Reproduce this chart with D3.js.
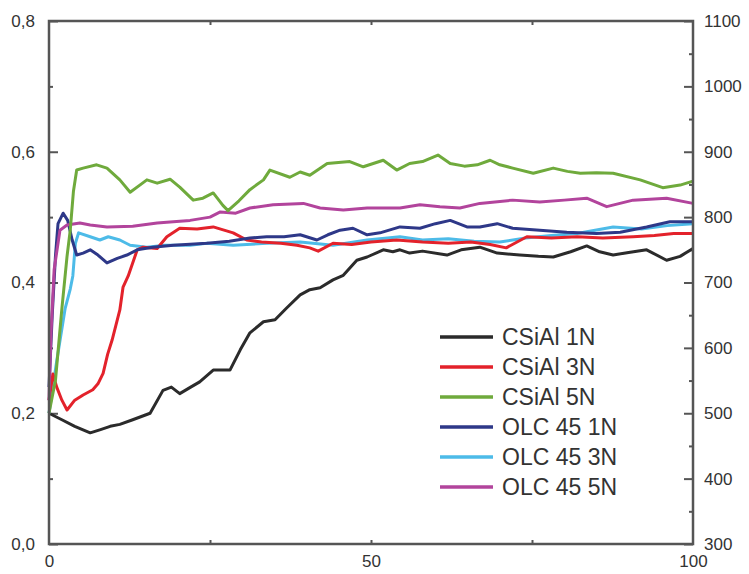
<!DOCTYPE html>
<html>
<head>
<meta charset="utf-8">
<script src="https://cdn.jsdelivr.net/npm/d3@7"></script>
<style>
  body { margin: 0; background: #fff; }
  text { font-family: "Liberation Sans", Arial, sans-serif; fill: #333; }
</style>
</head>
<body>
<div class="container"></div>
<script>
// Series data: [x, value]
const csial1N = [[0,.2],[2,.19],[4,.18],[6.4,.17],[8,.175],[9.5,.18],[11,.183],[13,.19],[15.7,.2],[17.7,.235],[19,.24],[20.3,.23],[22,.24],[23.4,.248],[25.5,.266],[28.1,.266],[29.7,.297],[31.2,.323],[33.3,.34],[35.1,.343],[36.9,.361],[39,.381],[40.5,.389],[42.1,.392],[44.1,.404],[45.7,.411],[47.8,.434],[49.4,.439],[51.9,.45],[53.4,.447],[54.5,.45],[56,.445],[58,.448],[61.8,.442],[64,.45],[66.9,.454],[69.6,.445],[73.1,.442],[76,.44],[78.3,.439],[81,.447],[83.5,.456],[85.5,.447],[87.6,.442],[90,.446],[92.8,.45],[95.9,.434],[98,.44],[100,.452]];
const csial3N = [[0,.22],[0.6,.26],[1.2,.24],[2,.22],[2.8,.205],[4,.22],[5.3,.228],[6.8,.236],[7.6,.245],[8.4,.261],[9.1,.29],[9.8,.312],[11,.358],[11.5,.393],[12.3,.41],[13.7,.45],[14.6,.454],[16.8,.452],[18.3,.47],[20.3,.483],[23,.482],[25.5,.485],[28.6,.476],[30.7,.465],[33,.462],[36,.46],[38.5,.457],[40.5,.453],[41.8,.448],[44.1,.46],[47,.458],[50,.462],[54,.465],[58,.462],[62,.46],[65.5,.462],[68.5,.458],[71,.453],[74.2,.47],[78,.468],[82,.47],[86,.468],[90.7,.47],[94,.472],[97,.475],[100,.475]];
const csial5N = [[0,.2],[1,.25],[2,.36],[2.8,.44],[3.3,.48],[3.8,.54],[4.3,.572],[5.3,.575],[7.4,.58],[9,.575],[11,.557],[12.6,.538],[14.1,.549],[15.2,.557],[16.8,.552],[18.8,.558],[20.3,.546],[22.4,.526],[23.9,.529],[25.5,.537],[27,.518],[27.8,.51],[29.5,.525],[31.2,.542],[33.3,.557],[34.3,.572],[37.4,.561],[39,.569],[40.5,.564],[43.2,.582],[46.7,.585],[48.8,.577],[51.9,.587],[54,.572],[56,.582],[58,.585],[60.4,.595],[62.3,.582],[64.5,.578],[66.5,.58],[68.5,.587],[70,.58],[72,.575],[75.2,.567],[78.3,.575],[80.5,.57],[82.5,.567],[85,.568],[87.6,.567],[91.8,.557],[95.3,.545],[98,.549],[100,.555]];
const olc1N = [[0,.24],[0.5,.35],[1,.44],[1.4,.49],[2.2,.506],[2.9,.495],[3.6,.465],[4.3,.442],[5.3,.445],[6.4,.45],[7.6,.442],[9,.43],[10.6,.437],[12.1,.442],[13.7,.45],[16.1,.454],[19.3,.457],[24.5,.46],[28,.463],[31.2,.468],[33.8,.47],[36.5,.47],[39,.473],[41.6,.465],[43.3,.473],[45.2,.48],[47.2,.483],[49.4,.473],[51.4,.476],[54.5,.485],[57.6,.483],[60,.49],[62.3,.495],[64.9,.485],[66.9,.485],[69.6,.49],[72,.483],[76.2,.48],[80.4,.477],[85,.475],[88.7,.477],[92.8,.485],[96.4,.493],[100,.493]];
const olc3N = [[0,.2],[1.2,.28],[2.5,.36],[3.3,.39],[3.7,.41],[4.1,.46],[4.6,.476],[6.4,.47],[7.9,.465],[9.2,.47],[11,.465],[12.6,.457],[15.2,.454],[18,.457],[21.9,.457],[24.5,.46],[28.6,.457],[33.8,.46],[39,.462],[44.1,.457],[49.4,.465],[54.5,.47],[58,.465],[62,.467],[66,.463],[70,.462],[74,.468],[78,.472],[82,.475],[87.6,.485],[92,.482],[96,.487],[100,.49]];
const olc5N = [[0,.22],[0.3,.32],[0.8,.42],[1.7,.48],[2.8,.488],[4.8,.491],[6.4,.488],[9,.485],[13,.486],[16.8,.491],[19.3,.493],[21.9,.495],[25,.5],[26.6,.508],[29,.506],[31.2,.514],[34.8,.519],[39.5,.521],[42.1,.514],[45.7,.511],[49.4,.514],[54.5,.514],[57.6,.519],[60.7,.516],[63.8,.514],[66.9,.521],[72,.526],[76.2,.523],[80,.526],[83.5,.529],[86.6,.516],[90.7,.526],[95.9,.529],[100,.521]];

const seriesNames = ["CSiAl 1N","CSiAl 3N","CSiAl 5N","OLC 45 1N","OLC 45 3N","OLC 45 5N"];
const seriesColors = ["#2b2b2b","#e3222b","#6faa3c","#2e3888","#4dbbe8","#b2449c"];
const seriesData = [csial1N, csial3N, csial5N, olc1N, olc3N, olc5N];
const drawOrder = [0, 4, 1, 3, 5, 2];

const leftTicks = [0, 0.2, 0.4, 0.6, 0.8];
const leftMinor = [0.1, 0.3, 0.5, 0.7];
const rightTicks = [300, 400, 500, 600, 700, 800, 900, 1000, 1100];
const rightMinor = [350, 450, 550, 650, 750, 850, 950, 1050];
const xTicks = [0, 50, 100];
const xMinor = [25, 50, 75];

// Dimensions
const w = 749, h = 574;
const padL = 49, padR = 693, padT = 21, padB = 544;

const xScale = d3.scaleLinear().domain([0, 100]).range([padL, padR]);
const yScale = d3.scaleLinear().domain([0, 0.8]).range([padB, padT]);
const y2Scale = d3.scaleLinear().domain([300, 1100]).range([padB, padT]);

const svg = d3.select(".container")
  .append("svg")
  .attr("width", w)
  .attr("height", h);

const comma = v => d3.format(".1f")(v).replace(".", ",");

function styleAxis(g) {
  g.select(".domain").remove();
  g.selectAll(".tick line").attr("stroke", "#555").attr("stroke-width", 2);
  g.selectAll(".tick text").style("font-size", "17px").style("font-family", "Liberation Sans, Arial").attr("fill", "#333");
}

// left axis
svg.append("g").attr("transform", `translate(${padL},0)`)
  .call(d3.axisLeft(yScale).tickValues(leftTicks).tickFormat(comma).tickSize(-9).tickPadding(14))
  .call(styleAxis);
svg.append("g").attr("transform", `translate(${padL},0)`)
  .call(d3.axisLeft(yScale).tickValues(leftMinor).tickFormat("").tickSize(-4))
  .call(styleAxis);

// right axis
svg.append("g").attr("transform", `translate(${padR},0)`)
  .call(d3.axisRight(y2Scale).tickValues(rightTicks).tickFormat(d3.format("d")).tickSize(-9).tickPadding(11))
  .call(styleAxis);
svg.append("g").attr("transform", `translate(${padR},0)`)
  .call(d3.axisRight(y2Scale).tickValues(rightMinor).tickFormat("").tickSize(-4))
  .call(styleAxis);

// bottom & top axis
svg.append("g").attr("transform", `translate(0,${padB})`)
  .call(d3.axisBottom(xScale).tickValues(xTicks).tickSize(0).tickPadding(11))
  .call(styleAxis);
svg.append("g").attr("transform", `translate(0,${padB})`)
  .call(d3.axisBottom(xScale).tickValues(xMinor).tickFormat("").tickSize(-4))
  .call(styleAxis);
svg.append("g").attr("transform", `translate(0,${padT})`)
  .call(d3.axisTop(xScale).tickValues(xMinor).tickFormat("").tickSize(-4))
  .call(styleAxis);

// lines
const line = d3.line().x(d => xScale(d[0])).y(d => yScale(d[1]));
svg.append("g").selectAll("path")
  .data(drawOrder)
  .enter()
  .append("path")
  .attr("d", i => line(seriesData[i]))
  .attr("fill", "none")
  .attr("stroke", i => seriesColors[i])
  .attr("stroke-width", 3)
  .attr("stroke-linejoin", "round");

// frame
svg.append("rect")
  .attr("x", padL).attr("y", padT)
  .attr("width", padR - padL).attr("height", padB - padT)
  .attr("fill", "none")
  .attr("stroke", "#555")
  .attr("stroke-width", 2.5);

// legend
const legend = svg.append("g").attr("transform", "translate(440,337)");
const rows = legend.selectAll("g")
  .data(seriesNames)
  .enter()
  .append("g")
  .attr("transform", (d, i) => `translate(0,${i * 30})`);
rows.append("line")
  .attr("x1", 0).attr("x2", 53)
  .attr("stroke", (d, i) => seriesColors[i])
  .attr("stroke-width", 3.5);
rows.append("text")
  .attr("x", 62)
  .attr("dy", "0.36em")
  .style("font-size", "23px")
  .text(d => d);
</script>
</body>
</html>
